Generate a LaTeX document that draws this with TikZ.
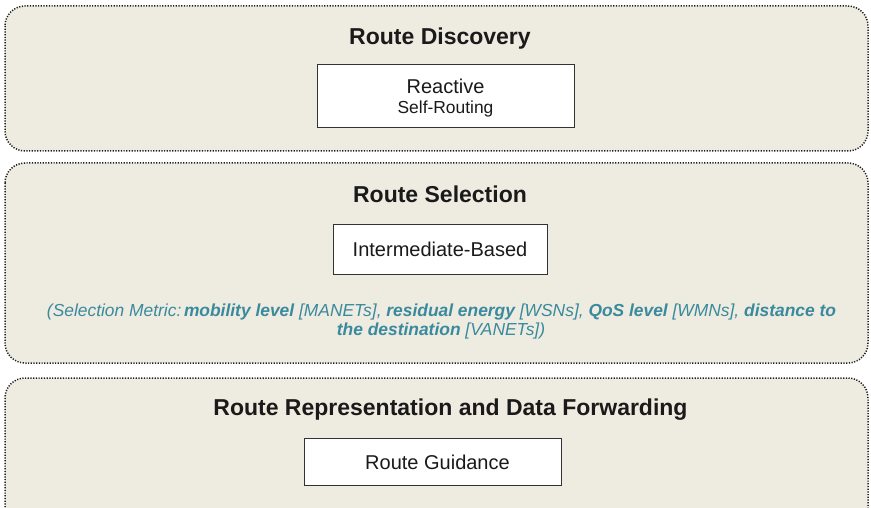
\documentclass[tikz,border=0pt]{standalone}
\usepackage{fontspec}
\setmainfont{Liberation Sans}
\begin{document}
\begin{tikzpicture}[x=1pt,y=-1pt,
  panel/.style={fill=panelfill, draw=dotgray, line width=1.5pt,
    dash pattern=on 1.2pt off 1.5pt, rounded corners=20pt},
  choice/.style={fill=white, draw=boxgray, line width=0.9pt},
  title/.style={anchor=base, inner sep=0pt, text=inkblack,
    font=\fontsize{23}{27}\selectfont\bfseries},
  label/.style={anchor=base, inner sep=0pt, text=inkblack,
    font=\fontsize{20}{24}\selectfont},
  sublabel/.style={anchor=base, inner sep=0pt, text=inkblack,
    font=\fontsize{17.4}{21}\selectfont},
  metric/.style={anchor=base, inner sep=0pt, text=metricteal,
    font=\fontsize{17.4}{21}\selectfont\itshape}]
\definecolor{panelfill}{HTML}{EEEBE0}
\definecolor{dotgray}{HTML}{1E1E1E}
\definecolor{boxgray}{HTML}{333333}
\definecolor{inkblack}{HTML}{1A1A1A}
\definecolor{metricteal}{HTML}{3A8A9E}
\useasboundingbox (0,0) rectangle (871,508);
\clip (0,0) rectangle (871,508);

% three stage panels
\draw[panel] (5,6) rectangle (868,151);
\draw[panel] (5,163) rectangle (868,363);
\draw[panel] (5,378) rectangle (868,530);

% route discovery
\node[title] (t1) at (440,45) {Route Discovery};
\draw[choice] (317,64) rectangle (574,127);
\node[label] (reactive) at (445.5,93.3) {Reactive};
\node[sublabel] (selfrouting) at (445.5,114) {Self-Routing};

% route selection
\node[title] (t2) at (440,203) {Route Selection};
\draw[choice] (333,224) rectangle (547,274);
\node[label] (intermediate) at (440,256) {Intermediate-Based};
\node[metric] (m1) at (441.5,316) {(Selection Metric:\hspace{0.15em}\textbf{mobility level} [MANETs], \textbf{residual energy} [WSNs], \textbf{QoS level} [WMNs], \textbf{distance to}};
\node[metric] (m2) at (441,335) {\textbf{the destination} [VANETs])};

% route representation
\node[title] (t3) at (450.5,415) {Route Representation and Data Forwarding};
\draw[choice] (304,438) rectangle (561,485);
\node[label] (guidance) at (437.5,469.3) {Route Guidance};
\end{tikzpicture}
\end{document}
